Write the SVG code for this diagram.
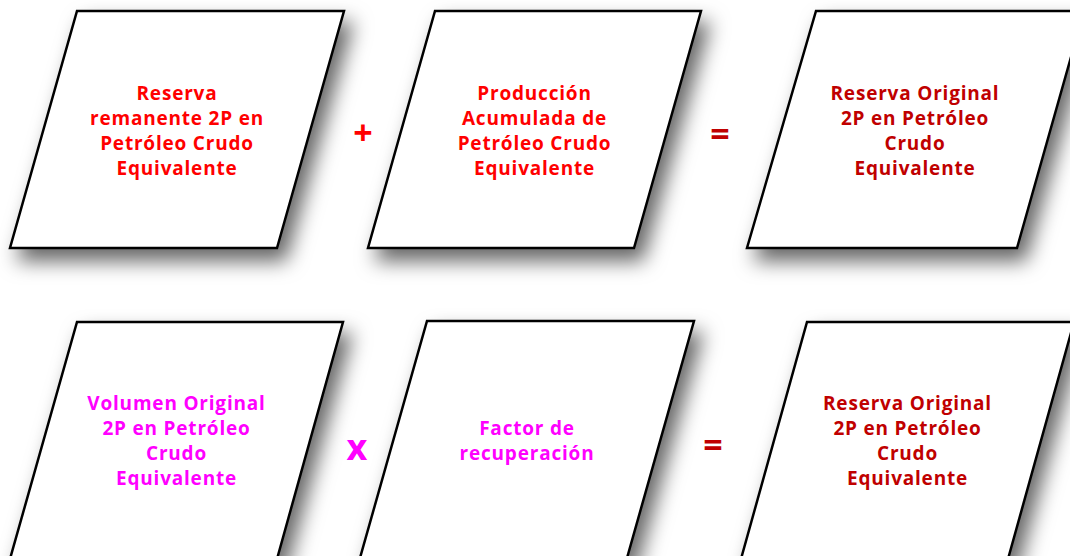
<svg xmlns="http://www.w3.org/2000/svg" width="1070" height="556" viewBox="0 0 1070 556">
<defs>
<filter id="sh" x="-20%" y="-20%" width="150%" height="150%">
<feDropShadow dx="8" dy="12" stdDeviation="10" flood-color="#000" flood-opacity="0.6"/>
</filter>
<style>
.box{fill:#fff;stroke:#000;stroke-width:2.5;stroke-linejoin:miter;filter:url(#sh)}
text{font-family:"Open Sans","Liberation Sans",sans-serif;font-weight:bold;text-anchor:middle;font-size:19px;letter-spacing:0.8px}
.r{fill:#ff0000}
.d{fill:#c00000}
.m{fill:#ff00ff}
.op{font-size:34px;letter-spacing:0}
</style>
</defs>
<rect width="1070" height="556" fill="#fff"/>
<g id="n1">
<polygon class="box" points="77,11 344,11 277,248 10,248"/>
<text class="r"><tspan x="177" y="100">Reserva</tspan><tspan x="177" y="125">remanente 2P en</tspan><tspan x="177" y="150">Petróleo Crudo</tspan><tspan x="177" y="175">Equivalente</tspan></text>
</g>
<g id="n2">
<polygon class="box" points="435,11 701,11 634,248 368,248"/>
<text class="r"><tspan x="534.5" y="100">Producción</tspan><tspan x="534.5" y="125">Acumulada de</tspan><tspan x="534.5" y="150">Petróleo Crudo</tspan><tspan x="534.5" y="175">Equivalente</tspan></text>
</g>
<g id="n3">
<polygon class="box" points="816,11 1084,11 1017,248 747,248"/>
<text class="d"><tspan x="915" y="100">Reserva Original</tspan><tspan x="915" y="125">2P en Petróleo</tspan><tspan x="915" y="150">Crudo</tspan><tspan x="915" y="175">Equivalente</tspan></text>
</g>
<g id="n4">
<polygon class="box" points="77,322 343,322 277,559 10,559"/>
<text class="m"><tspan x="176.5" y="410">Volumen Original</tspan><tspan x="176.5" y="435">2P en Petróleo</tspan><tspan x="176.5" y="460">Crudo</tspan><tspan x="176.5" y="485">Equivalente</tspan></text>
</g>
<g id="n5">
<polygon class="box" points="427,321 694,321 627,558 360,558"/>
<text class="m"><tspan x="527" y="435">Factor de</tspan><tspan x="527" y="460">recuperación</tspan></text>
</g>
<g id="n6">
<polygon class="box" points="807,322 1074,322 1008,559 741,559"/>
<text class="d"><tspan x="907.5" y="410">Reserva Original</tspan><tspan x="907.5" y="435">2P en Petróleo</tspan><tspan x="907.5" y="460">Crudo</tspan><tspan x="907.5" y="485">Equivalente</tspan></text>
</g>
<g id="operators">
<text class="r op" x="363" y="145">+</text>
<text class="d op" x="720" y="146">=</text>
<text class="m op" x="357" y="460" style="font-size:36px">x</text>
<text class="d op" x="713" y="457">=</text>
</g>
</svg>
